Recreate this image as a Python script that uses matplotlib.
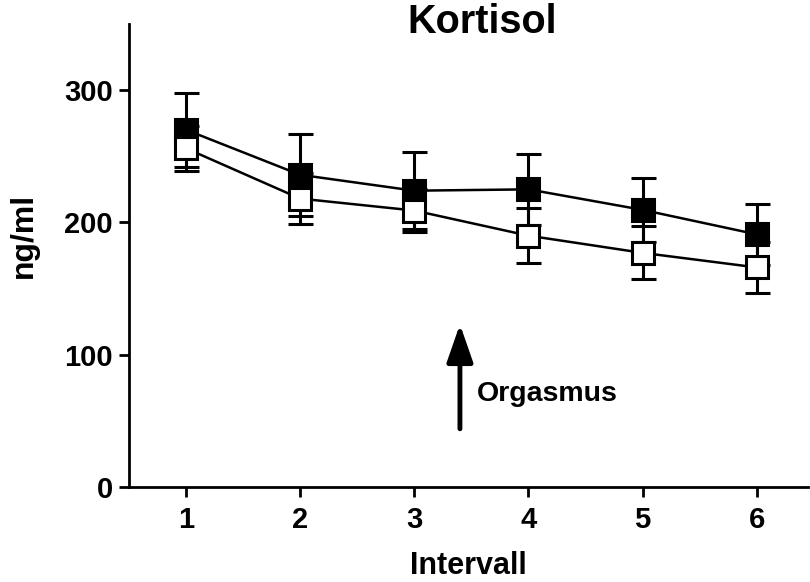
import matplotlib
matplotlib.use("Agg")
import matplotlib.pyplot as plt

intervals = [1, 2, 3, 4, 5, 6]
filled_mean = [270, 236, 224, 225, 209.5, 191]
filled_err = [28, 31, 29, 27, 24, 23]
open_mean = [256, 218, 209, 190, 177, 166]
open_err = [17, 19.5, 16, 21, 20, 19]
yticks = [0, 100, 200, 300]

plt.rcParams['font.family'] = ['Liberation Sans', 'DejaVu Sans']
plt.rcParams['font.weight'] = 'bold'

fig = plt.figure(figsize=(8.1, 5.82), dpi=100)
ax = fig.add_axes([129/810, 1-487/582, (808-129)/810, (487-24)/582])

common = dict(color='black', lw=1.8, elinewidth=2.2, capsize=9, capthick=2.2,
              marker='s', markersize=16, markeredgewidth=2.2, markeredgecolor='black')
ax.errorbar(intervals, filled_mean, yerr=filled_err, markerfacecolor='black', zorder=3, **common)
ax.errorbar(intervals, open_mean, yerr=open_err, markerfacecolor='white', zorder=4, **common)

ax.set_xlim(0.5, 6.45)
ax.set_ylim(0, 350)
ax.set_xticks(intervals)
ax.set_yticks(yticks)
for s in ['top', 'right']:
    ax.spines[s].set_visible(False)
for s in ['left', 'bottom']:
    ax.spines[s].set_linewidth(2.0)
ax.tick_params(axis='both', width=2.0, length=7.5, labelsize=21)
ax.tick_params(axis='x', pad=6)
ax.tick_params(axis='y', pad=4)
for lab in ax.get_xticklabels() + ax.get_yticklabels():
    lab.set_fontweight('bold')

fig.text(468/810, 1-566/582, 'Intervall', fontsize=22, fontweight='bold',
         ha='center', va='center')
fig.text(24/810, 1-235/582, 'ng/ml', fontsize=23, fontweight='bold',
         ha='center', va='center', rotation=90)

fig.text(482/810, 1-22/582, 'Kortisol', fontsize=28.5, fontweight='bold',
         ha='center', va='center')

ax.annotate('', xy=(3.4, 123), xytext=(3.4, 44),
            arrowprops=dict(arrowstyle='-|>,head_width=0.8,head_length=2.3',
                            lw=3.5, color='black', shrinkA=0, shrinkB=0))
ax.text(3.55, 70, 'Orgasmus', fontsize=20.5, fontweight='bold', ha='left', va='center')

fig.savefig('out.png', dpi=100)
